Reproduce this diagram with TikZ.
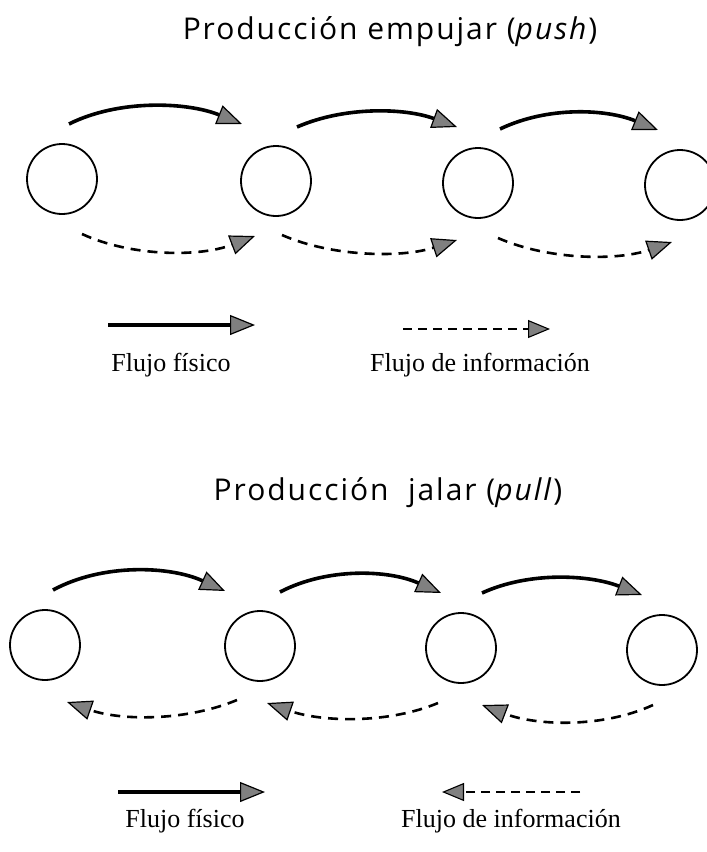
\documentclass[tikz,border=0pt]{standalone}
\usepackage{fontspec}
\setmainfont{Liberation Serif}
\newfontfamily\titlefont[LetterSpace=6.5,ItalicFeatures={LetterSpace=6.5}]{Open Sans}
\usetikzlibrary{arrows.meta}
\tikzset{
  stn/.style={draw, circle, line width=1.8pt, minimum size=70pt, inner sep=0pt},
  tipg/.style={-{Triangle[length=25pt,width=20pt,line width=1.2pt,fill=black!50,color=black]}},
  tips/.style={-{Triangle[length=22pt,width=18pt,line width=1.1pt,fill=black!50,color=black]}},
  phys/.style={tipg, line width=3.6pt},
  info/.style={tipg, line width=2.6pt, dash pattern=on 10pt off 7pt},
  infol/.style={tips, line width=2.2pt, dash pattern=on 9pt off 6pt},
  ttl/.style={font=\titlefont\fontsize{30}{36}\selectfont, anchor=base},
  lbl/.style={font=\fontsize{26}{30}\selectfont, anchor=base},
}
\begin{document}
\begin{tikzpicture}[x=1pt,y=-1pt]
\path[use as bounding box, fill=white] (0,0) rectangle (707,852);

% ---------- push ----------
\node[ttl] (t1) at (390,39) {Producción empujar (\textit{push})};
\node[stn] (a1) at (62,179) {};
\node[stn] (a2) at (276,181) {};
\node[stn] (a3) at (478,183) {};
\node[stn] (a4) at (680,185) {};

\coordinate (ps1) at (69,124);  \coordinate (pe1) at (242,124);
\coordinate (ps2) at (297,127); \coordinate (pe2) at (457,127);
\coordinate (ps3) at (500,129); \coordinate (pe3) at (658,130);
\draw[phys] (ps1) .. controls +(50,-25) and +(-55,-22) .. (pe1);
\draw[phys] (ps2) .. controls +(48,-21) and +(-52,-19) .. (pe2);
\draw[phys] (ps3) .. controls +(48,-23) and +(-52,-21) .. (pe3);

\coordinate (is1) at (82,234);  \coordinate (ie1) at (255,236);
\coordinate (is2) at (282,235); \coordinate (ie2) at (457,240);
\coordinate (is3) at (498,238); \coordinate (ie3) at (672,242);
\draw[info] (is1) .. controls +(50,23) and +(-55,21) .. (ie1);
\draw[info] (is2) .. controls +(50,22) and +(-55,18) .. (ie2);
\draw[info] (is3) .. controls +(50,22) and +(-55,19) .. (ie3);

\coordinate (lp1s) at (108,325); \coordinate (lp1e) at (255,325);
\coordinate (li1s) at (403,329); \coordinate (li1e) at (550,329);
\draw[phys] (lp1s) -- (lp1e);
\draw[infol] (li1s) -- (li1e);
\node[lbl] (l1) at (171,371) {Flujo físico};
\node[lbl] (l2) at (480,371) {Flujo de información};

% ---------- pull ----------
\node[ttl] (t2) at (388,500) {Producción\ \ jalar (\textit{pull})};
\node[stn] (b1) at (45,645) {};
\node[stn] (b2) at (260,646) {};
\node[stn] (b3) at (461,648) {};
\node[stn] (b4) at (662,650) {};

\coordinate (qs1) at (53,590);  \coordinate (qe1) at (225,591);
\coordinate (qs2) at (280,592); \coordinate (qe2) at (441,593);
\coordinate (qs3) at (482,593); \coordinate (qe3) at (642,595);
\draw[phys] (qs1) .. controls +(50,-27) and +(-55,-25) .. (qe1);
\draw[phys] (qs2) .. controls +(48,-25) and +(-52,-23) .. (qe2);
\draw[phys] (qs3) .. controls +(48,-22) and +(-52,-20) .. (qe3);

\coordinate (js1) at (237,700); \coordinate (je1) at (67,702);
\coordinate (js2) at (438,703); \coordinate (je2) at (267,703);
\coordinate (js3) at (653,705); \coordinate (je3) at (482,705);
\draw[info] (js1) .. controls +(-50,21) and +(55,19) .. (je1);
\draw[info] (js2) .. controls +(-50,21) and +(55,19) .. (je2);
\draw[info] (js3) .. controls +(-50,23) and +(55,21) .. (je3);

\coordinate (lp2s) at (118,792); \coordinate (lp2e) at (265,792);
\coordinate (li2s) at (580,792); \coordinate (li2e) at (442,792);
\draw[phys] (lp2s) -- (lp2e);
\draw[infol] (li2s) -- (li2e);
\node[lbl] (l3) at (185,827) {Flujo físico};
\node[lbl] (l4) at (511,827) {Flujo de información};
\end{tikzpicture}
\end{document}
